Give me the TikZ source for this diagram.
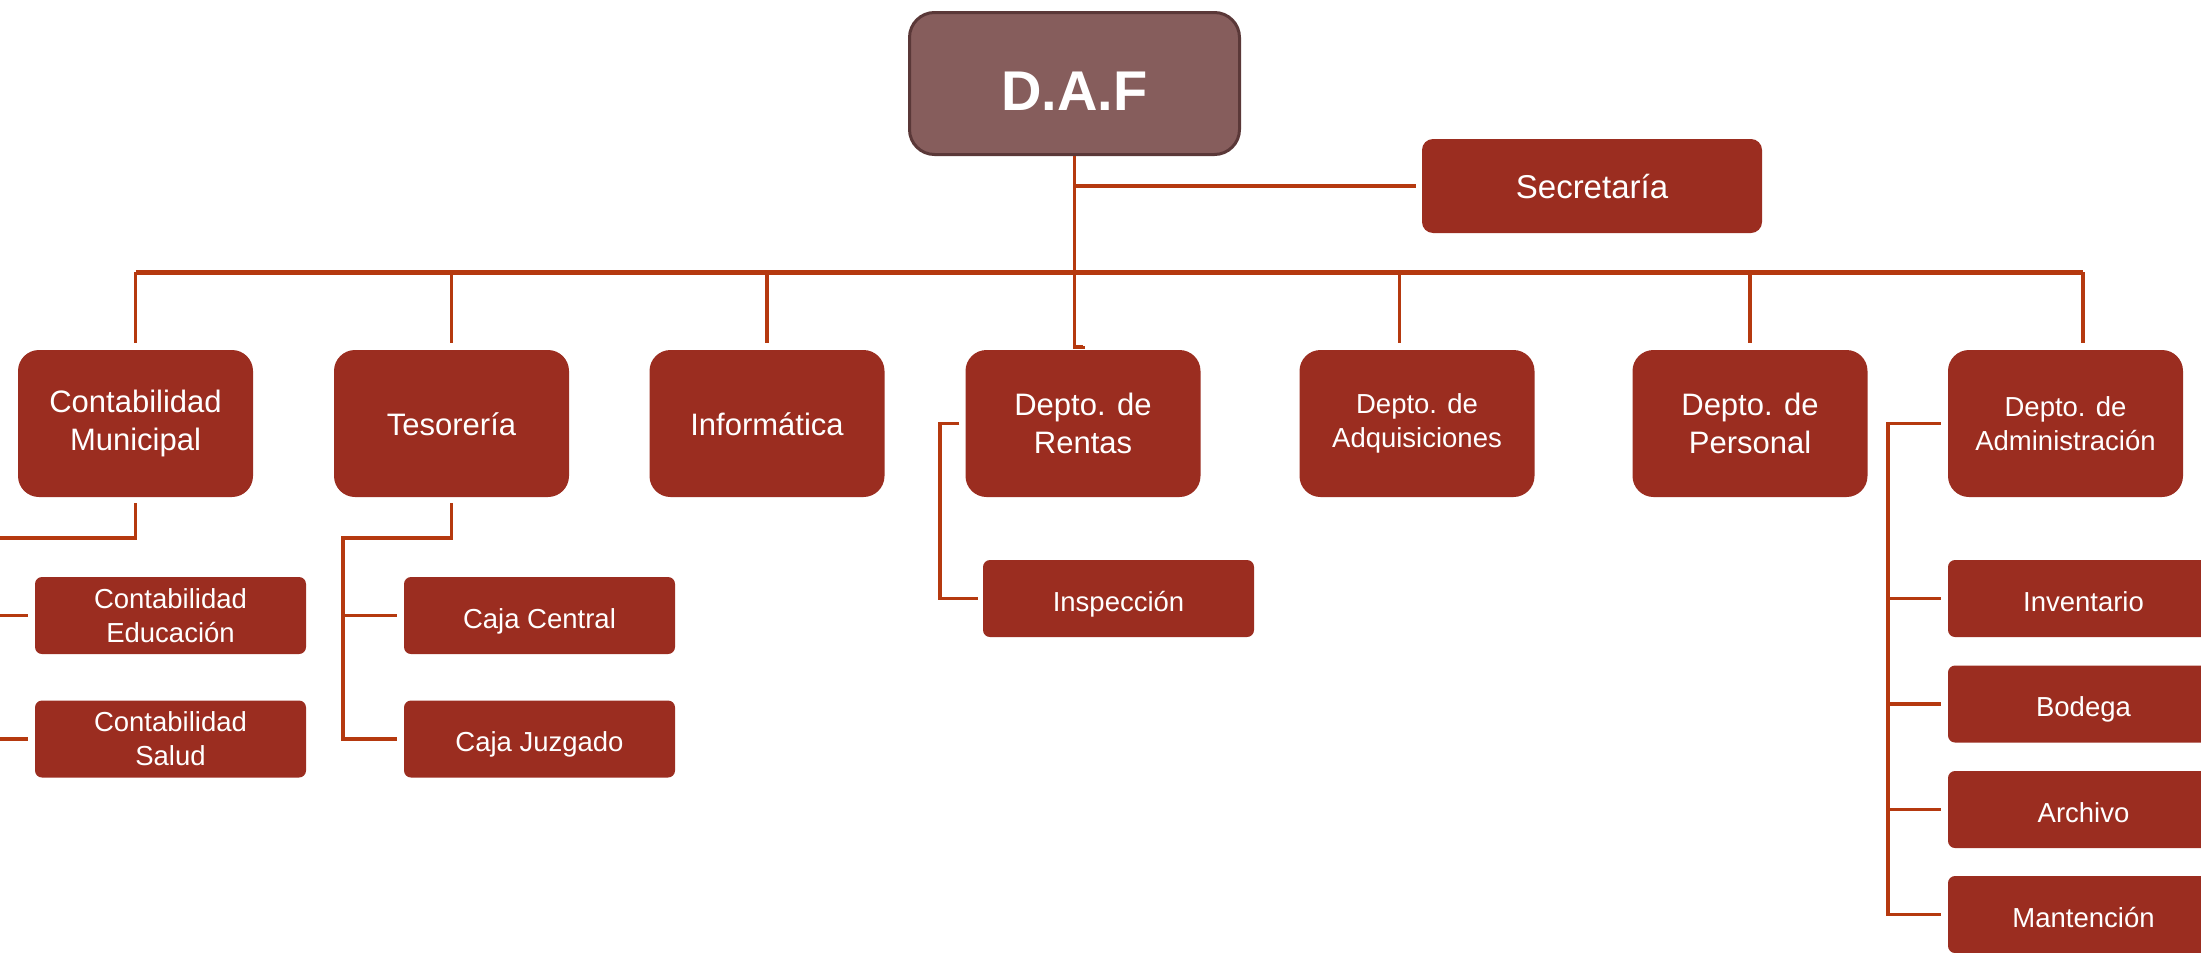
\documentclass[tikz,border=0pt]{standalone}
\usepackage{fontspec}
\setmainfont{Liberation Sans}
\definecolor{boxred}{HTML}{9B2D20}
\definecolor{linered}{HTML}{B5390F}
\definecolor{daffill}{HTML}{865D5C}
\definecolor{dafdraw}{HTML}{5A3838}
\begin{document}
\begin{tikzpicture}[x=1pt,y=-1pt,
  dafbox/.style={fill=daffill,draw=dafdraw,line width=3pt,text=white,rounded corners=25pt,
    minimum width=330pt,minimum height=142pt,inner sep=0pt,font=\fontsize{56}{60}\selectfont\bfseries},
  secbox/.style={fill=boxred,text=white,rounded corners=11pt,minimum width=340pt,minimum height=94pt,
    inner sep=0pt,font=\fontsize{33}{40}\selectfont,text height=24.4pt,text depth=0pt},
  lvltwo/.style={fill=boxred,text=white,rounded corners=21pt,minimum width=235pt,minimum height=147pt,
    inner sep=0pt,align=center,font=\fontsize{31}{38}\selectfont},
  lvltwos/.style={lvltwo,font=\fontsize{27.5}{34}\selectfont},
  lvlthree/.style={fill=boxred,text=white,rounded corners=7pt,minimum width=271pt,minimum height=77pt,
    inner sep=0pt,align=center,font=\fontsize{27.5}{34}\selectfont},
  onelinetwo/.style={text height=23pt,text depth=0pt},
  onelinethree/.style={text height=25pt,text depth=0pt},
  conn/.style={draw=linered,line width=3.3pt},
  thinconn/.style={draw=linered,line width=2.6pt},
  busline/.style={draw=linered,line width=5pt}]
\useasboundingbox (0,0) rectangle (2201,953);
\clip (0,0) rectangle (2201,953);

% nodes
\node[dafbox] (daf) at (1074.5,83.5) {\raisebox{-26.5pt}[0pt][0pt]{D.A.F}};
\node[secbox] (sec) at (1592,186) {Secretaría};
\node[lvltwo] (cm) at (135.5,423.5) {Contabilidad\\Municipal};
\node[lvltwo,onelinetwo] (tes) at (451.5,423.5) {Tesorería};
\node[lvltwo,onelinetwo] (inf) at (767,423.5) {Informática};
\node[lvltwo] (ren) at (1083,423.5) {Depto. de\\Rentas};
\node[lvltwos] (adq) at (1417,423.5) {Depto. de\\Adquisiciones};
\node[lvltwo] (per) at (1750,423.5) {Depto. de\\Personal};
\node[lvltwos] (adm) at (2065.5,423.5) {Depto. de\\Administración};

\node[lvlthree] (ce) at (170.5,615.5) {Contabilidad\\Educación};
\node[lvlthree] (cs) at (170.5,739) {Contabilidad\\Salud};
\node[lvlthree,onelinethree] (cc) at (539.5,615.5) {Caja Central};
\node[lvlthree,onelinethree] (cj) at (539.5,739) {Caja Juzgado};
\node[lvlthree,onelinethree] (ins) at (1118.5,598.5) {Inspección};
\node[lvlthree,onelinethree] (inv) at (2083.5,598.5) {Inventario};
\node[lvlthree,onelinethree] (bod) at (2083.5,704) {Bodega};
\node[lvlthree,onelinethree] (arc) at (2083.5,809.5) {Archivo};
\node[lvlthree,onelinethree] (man) at (2083.5,914.5) {Mantención};

% coordinates
\coordinate (bus) at (0,272);
\coordinate (adqtop) at (1399.5,343);
\coordinate (admtop) at (2083,343);
\coordinate (hook) at (1074.5,347);
\coordinate (cmbus) at (-15,538);
\coordinate (tesbus) at (343,538);
\coordinate (renbus) at (940,423.5);
\coordinate (admbus) at (1888,423.5);

% top connectors
\draw[conn] (daf.south) -- (hook) -| ([yshift=4pt]ren.north);
\draw[conn] (daf.south |- sec.west) -- ([xshift=-6pt]sec.west);
\draw[busline] (cm.north |- bus) -- (admtop |- bus);
\draw[conn] (cm.north |- bus) -- ([yshift=7pt]cm.north);
\draw[conn] (tes.north |- bus) -- ([yshift=7pt]tes.north);
\draw[conn] (inf.north |- bus) -- ([yshift=7pt]inf.north);
\draw[conn] (adqtop |- bus) -- (adqtop);
\draw[conn] (per.north |- bus) -- ([yshift=7pt]per.north);
\draw[conn] (admtop |- bus) -- (admtop);

% Contabilidad Municipal
\draw[conn] ([yshift=-6pt]cm.south) |- (cmbus) |- ([xshift=-7pt]ce.west);
\draw[conn] (cmbus) |- ([xshift=-7pt]cs.west);

% Tesoreria
\draw[conn] ([yshift=-6pt]tes.south) |- (tesbus) |- ([xshift=-7pt]cj.west);
\draw[thinconn] (tesbus |- cc.west) -- ([xshift=-7pt]cc.west);

% Rentas
\draw[conn] ([xshift=-6pt]ren.west) -- (renbus) |- ([xshift=-5pt]ins.west);

% Administracion
\draw[conn] ([xshift=-7pt]adm.west) -- (admbus) |- ([xshift=-7pt]man.west);
\draw[conn] (admbus |- inv.west) -- ([xshift=-7pt]inv.west);
\draw[conn] (admbus |- bod.west) -- ([xshift=-7pt]bod.west);
\draw[conn] (admbus |- arc.west) -- ([xshift=-7pt]arc.west);
\end{tikzpicture}
\end{document}
